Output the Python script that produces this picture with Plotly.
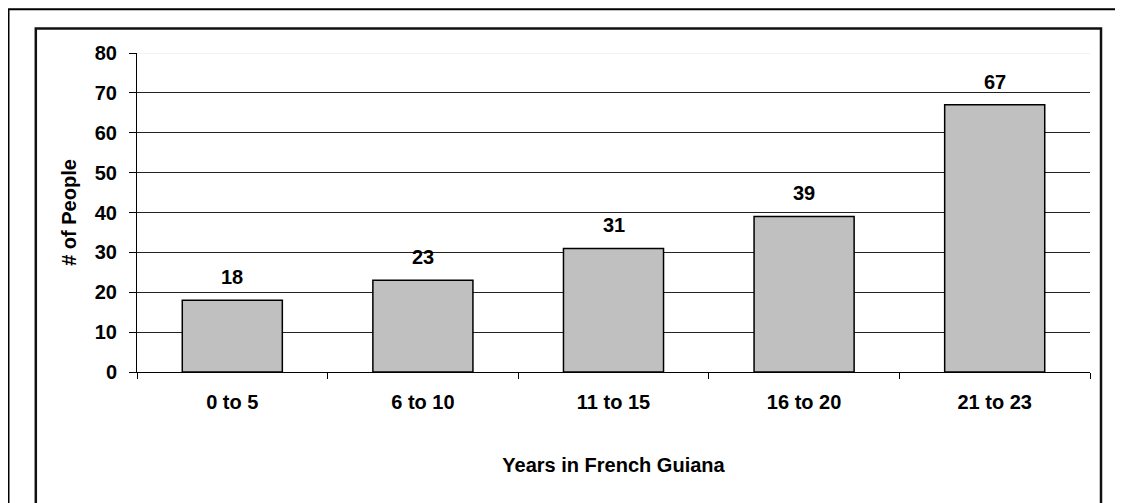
import plotly.graph_objects as go

categories = ["0 to 5", "6 to 10", "11 to 15", "16 to 20", "21 to 23"]
values = [18, 23, 31, 39, 67]
y_ticks = [0, 10, 20, 30, 40, 50, 60, 70, 80]

# page has an 8px body margin, so the figure sits at (8, 8)
W, H = 1115, 495
L, R, T, B = 129, 33, 45, 131
pw, ph = W - L - R, H - T - B


def px(x):
    return (x - L) / pw


def py(y):
    return (H - B - y) / ph


FONT = "Liberation Sans, Arial, sans-serif"
FS = 20

fig = go.Figure()
fig.add_trace(go.Bar(
    x=categories, y=values,
    marker=dict(color="#C0C0C0", line=dict(color="black", width=1.5)),
    width=0.525,
    hoverinfo="skip",
))

for c, v in zip(categories, values):
    fig.add_annotation(x=c, y=v, text=f"<b>{v}</b>", showarrow=False,
                       yanchor="bottom", yshift=10,
                       font=dict(family=FONT, size=FS, color="black"))

shapes = [
    # light top gridline at 80
    dict(type="line", xref="paper", yref="y", x0=0, x1=1, y0=80, y1=80,
         line=dict(color="#e6e6e6", width=1), layer="above"),
    # outer border (left and top)
    dict(type="path", xref="paper", yref="paper",
         path=f"M {px(0.5)} {py(520)} L {px(0.5)} {py(1.3)} L {px(1130)} {py(1.3)}",
         line=dict(color="black", width=2)),
    # inner frame
    dict(type="rect", xref="paper", yref="paper",
         x0=px(27.8), x1=px(1093), y0=py(520), y1=py(20.5),
         line=dict(color="#111", width=2.5)),
]

fig.update_layout(
    width=W, height=H,
    margin=dict(l=L, r=R, t=T, b=B),
    paper_bgcolor="white", plot_bgcolor="white",
    showlegend=False,
    bargap=0.475,
    shapes=shapes,
    font=dict(family=FONT, color="black"),
    xaxis=dict(
        type="category",
        tickson="boundaries",
        ticks="outside", ticklen=6, tickcolor="black",
        showline=True, linecolor="black", linewidth=1,
        showgrid=False,
        tickfont=dict(family=FONT, size=FS, color="black", weight="bold"),
        ticklabelstandoff=12,
        title=dict(text="<b>Years in French Guiana</b>", font=dict(family=FONT, size=FS), standoff=45),
    ),
    yaxis=dict(
        range=[0, 80],
        tickvals=y_ticks,
        ticks="outside", ticklen=7, tickcolor="black",
        showline=True, linecolor="black", linewidth=1,
        showgrid=True, gridcolor="#222", gridwidth=1,
        zeroline=False,
        tickfont=dict(family=FONT, size=FS, color="black", weight="bold"),
        ticklabelstandoff=8,
        title=dict(text="<b># of People</b>", font=dict(family=FONT, size=FS), standoff=12),
    ),
)

fig.write_html("out.html")
